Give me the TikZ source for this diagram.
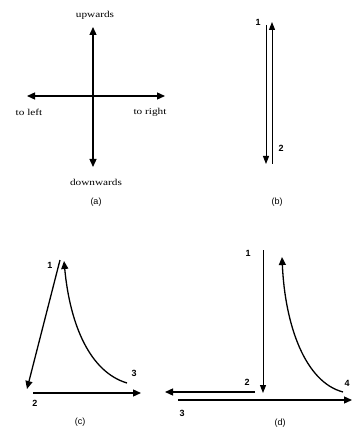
\documentclass[tikz,border=0pt]{standalone}
\usepackage{fontspec}
\usepackage{graphicx}
\setmainfont{Liberation Serif}
\setsansfont{Liberation Sans}
\usetikzlibrary{arrows.meta}
\newcommand\widetxt[1]{\scalebox{1.25}[1]{#1}}
\tikzset{
  ln/.style={line width=1.3pt, -{Triangle[length=8pt,width=7pt]}},
  thinln/.style={line width=1pt, -{Triangle[length=8pt,width=6pt]}},
  wordlbl/.style={inner sep=0pt, font=\fontsize{9}{10}\selectfont},
  numlbl/.style={inner sep=0pt, font=\fontsize{9}{10}\sffamily\bfseries},
  caplbl/.style={inner sep=0pt, font=\fontsize{9}{10}\sffamily}
}
\begin{document}
\begin{tikzpicture}[x=1pt,y=-1pt]
\useasboundingbox (0,0) rectangle (352,430);
% ---------- (a)
\coordinate (aC) at (93,96);
\coordinate (aU) at (93,27);
\coordinate (aD) at (93,167);
\coordinate (aL) at (27,96);
\coordinate (aR) at (165,96);
\draw[ln] (aC) -- (aU);
\draw[ln] (aC) -- (aD);
\draw[ln] (aC) -- (aL);
\draw[ln] (aC) -- (aR);
\node[wordlbl] (tu) at (95,15) {\widetxt{upwards}};
\node[wordlbl] (tl) at (29,112) {\widetxt{to left}};
\node[wordlbl] (tr) at (150,112) {\widetxt{to right}};
\node[wordlbl] (td) at (96,182) {\widetxt{downwards}};
\node[caplbl] (ca) at (96,202) {(a)};
% ---------- (b)
\coordinate (b1t) at (266,25);
\coordinate (b1b) at (266,164);
\coordinate (b2b) at (272,164);
\coordinate (b2t) at (272,22);
\draw[thinln] (b1t) -- (b1b);
\draw[thinln] (b2b) -- (b2t);
\node[numlbl] (n1b) at (258,22) {1};
\node[numlbl] (n2b) at (281,148) {2};
\node[caplbl] (cb) at (277,202) {(b)};
% ---------- (c)
\coordinate (c1) at (60,260);
\coordinate (c2) at (27,389);
\coordinate (c2s) at (33,393);
\coordinate (c2e) at (141,393);
\coordinate (c3) at (127,383);
\coordinate (c1e) at (64,261);
\draw[ln] (c1) -- (c2);
\draw[ln] (c2s) -- (c2e);
\draw[ln] (c3) .. controls (90,372) and (70,325) .. (c1e);
\node[numlbl] (n1c) at (50,265) {1};
\node[numlbl] (n3c) at (134,373) {3};
\node[numlbl] (n2c) at (35,403) {2};
\node[caplbl] (cc) at (80,422) {(c)};
% ---------- (d)
\coordinate (d1) at (263,250);
\coordinate (d2) at (263,393);
\coordinate (d4) at (343,392);
\coordinate (d4e) at (282,257);
\coordinate (d2s) at (255,392);
\coordinate (d2e) at (165,392);
\coordinate (d3s) at (178,400);
\coordinate (d3e) at (352,400);
\draw[thinln] (d1) -- (d2);
\draw[ln] (d4) .. controls (305,382) and (285,325) .. (d4e);
\draw[ln] (d2s) -- (d2e);
\draw[ln] (d3s) -- (d3e);
\node[numlbl] (n1d) at (248,253) {1};
\node[numlbl] (n2d) at (247,382) {2};
\node[numlbl] (n4d) at (347,383) {4};
\node[numlbl] (n3d) at (182,413) {3};
\node[caplbl] (cd) at (280,423) {(d)};
\end{tikzpicture}
\end{document}
